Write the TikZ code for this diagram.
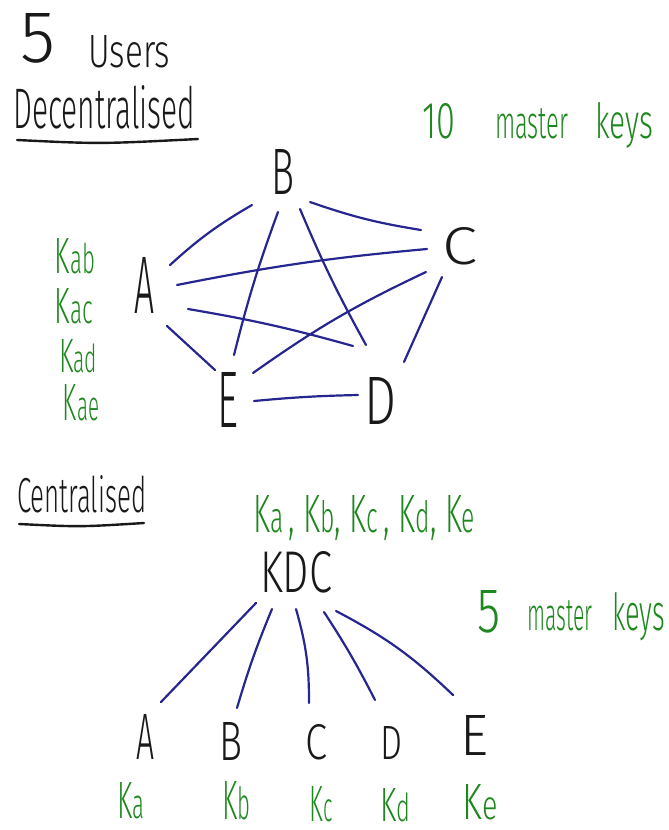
\documentclass[tikz,border=0pt]{standalone}
\usepackage{fontspec}
\setmainfont{Fira Sans Light}
\usetikzlibrary{calc}
\definecolor{ink}{RGB}{25,25,25}
\definecolor{keygreen}{RGB}{30,135,30}
\definecolor{linkblue}{RGB}{38,38,145}
% squeeze a piece of text into a box of given width and height
\newcommand{\hw}[3]{\resizebox{#1pt}{#2pt}{#3}}
\newcommand{\ks}[1]{K{\footnotesize #1}}

\begin{document}
\begin{tikzpicture}[x=1pt,y=-1pt,
    word/.style={inner sep=0pt,anchor=base west,text=ink},
    key/.style={inner sep=0pt,anchor=base west,text=keygreen},
    user/.style={inner sep=0pt,text=ink},
    ukey/.style={inner sep=0pt,text=keygreen},
    link/.style={draw=linkblue,line width=2.2pt,line cap=round},
    rule/.style={draw=ink,line width=2.4pt,line cap=round}]
  \useasboundingbox (0,0) rectangle (669,830);

  % headings
  \node[word] (five) at (20,62) {\hw{35}{49}{5}};
  \node[word] (users) at (88,67) {\hw{82}{32}{Users}};
  \node[word] (dec) at (13,128) {\hw{182}{43}{Decentralised}};
  \draw[rule] (17,140) .. controls (100,144) .. (198,139);
  \node[key] (ten) at (422,138) {\hw{33}{35}{10}};
  \node[key] (master) at (495,138) {\hw{73}{30}{master}};
  \node[key] (keys) at (595,138) {\hw{58}{36}{keys}};

  % decentralised: everyone shares a key with everyone
  \node[user] (A) at (145,285) {\hw{20}{56}{A}};
  \node[user] (B) at (283,172) {\hw{23}{45}{B}};
  \node[user] (C) at (460,246) {\hw{35}{37}{C}};
  \node[user] (D) at (381,401) {\hw{32}{47}{D}};
  \node[user] (E) at (228,400) {\hw{21}{55}{E}};

  \node[ukey] (kab) at (75,256) {\hw{40}{35}{\ks{ab}}};
  \node[ukey] (kac) at (74,306) {\hw{38}{35}{\ks{ac}}};
  \node[ukey] (kad) at (78,356) {\hw{38}{33}{\ks{ad}}};
  \node[ukey] (kae) at (81,403) {\hw{36}{36}{\ks{ae}}};

  \draw[link] ($(A)+(25,-20)$) to[bend left=6] ($(B)+(-31,33)$);
  \draw[link] ($(B)+(27,30)$) to[bend right=5] ($(C)+(-39,-16)$);
  \draw[link] ($(A)+(32,0)$) to[bend left=3] ($(C)+(-33,3)$);
  \draw[link] ($(A)+(43,24)$) to[bend left=3] ($(D)+(-28,-55)$);
  \draw[link] ($(A)+(22,41)$) -- ($(E)+(-13,-30)$);
  \draw[link] ($(B)+(-5,40)$) to[bend right=3] ($(E)+(6,-45)$);
  \draw[link] ($(B)+(17,37)$) to[bend right=3] ($(D)+(-15,-56)$);
  \draw[link] ($(C)+(-34,26)$) to[bend right=5] ($(E)+(25,-27)$);
  \draw[link] ($(C)+(-18,31)$) -- ($(D)+(23,-39)$);
  \draw[link] ($(E)+(26,1)$) to[bend left=2] ($(D)+(-23,-6)$);

  % centralised: one key per user, all held by the KDC
  \node[word] (cen) at (17,512) {\hw{129}{37}{Centralised}};
  \draw[rule] (19,524) .. controls (80,527) .. (144,523);
  \node[key] (allkeys) at (253,532) {\hw{222}{37}{\ks{a}\,, \ks{b}, \ks{c}\,, \ks{d}, \ks{e}}};
  \node[user] (kdc) at (296,572) {\hw{72}{41}{KDC}};
  \node[key] (five2) at (477,632) {\hw{23}{42}{5}};
  \node[key] (master2) at (527,630) {\hw{65}{30}{master}};
  \node[key] (keys2) at (612,630) {\hw{53}{38}{keys}};

  \node[user] (a) at (146,737) {\hw{18}{45}{A}};
  \node[user] (b) at (231,741) {\hw{23}{38}{B}};
  \node[user] (c) at (316,742) {\hw{22}{35}{C}};
  \node[user] (d) at (391,743) {\hw{22}{33}{D}};
  \node[user] (e) at (474,735) {\hw{28}{40}{E}};

  \node[ukey] (ka) at (131,801) {\hw{27}{36}{\ks{a}}};
  \node[ukey] (kb) at (236,801) {\hw{28}{38}{\ks{b}}};
  \node[ukey] (kc) at (321,804) {\hw{23}{35}{\ks{c}}};
  \node[ukey] (kd) at (395,805) {\hw{30}{33}{\ks{d}}};
  \node[ukey] (ke) at (480,802) {\hw{35}{35}{\ks{e}}};

  \draw[link] ($(kdc)+(-40,31)$) -- ($(a)+(15,-35)$);
  \draw[link] ($(kdc)+(-24,37)$) to[bend right=3] ($(b)+(6,-33)$);
  \draw[link] ($(kdc)+(0,37)$) to[bend left=8] ($(c)+(-7,-39)$);
  \draw[link] ($(kdc)+(28,40)$) to[bend left=3] ($(d)+(-16,-43)$);
  \draw[link] ($(kdc)+(40,39)$) to[bend left=8] ($(e)+(-21,-40)$);
\end{tikzpicture}
\end{document}
